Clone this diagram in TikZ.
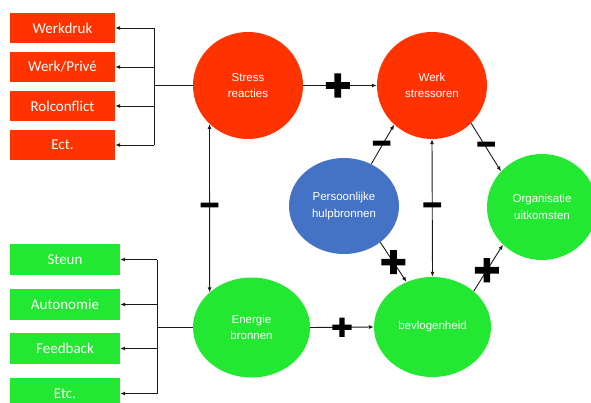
\documentclass[tikz,border=0pt]{standalone}
\usepackage{fontspec}
\setmainfont{Liberation Sans}
\newfontfamily\boxfont{Carlito}
\newfontfamily\signfont[FakeBold=8]{DejaVu Sans Bold}
\usetikzlibrary{shapes.geometric,arrows.meta}
\definecolor{myred}{HTML}{FF3300}
\definecolor{mygreen}{HTML}{22E832}
\definecolor{myblue}{HTML}{4472C4}
\definecolor{lineclr}{HTML}{1A1A1A}
\begin{document}
\begin{tikzpicture}[x=1pt,y=-1pt,
  circ/.style={ellipse, inner sep=0pt, text=white, align=center,
    font=\fontsize{11.5}{16.5}\selectfont},
  redbox/.style={rectangle, fill=myred, minimum width=105pt, minimum height=30pt,
    inner sep=0pt, text=white, font=\boxfont\fontsize{15}{15}\selectfont},
  greenbox/.style={rectangle, fill=mygreen, minimum width=110pt, minimum height=31pt,
    inner sep=0pt, text=white, font=\boxfont\fontsize{15}{15}\selectfont},
  conn/.style={draw=lineclr, line width=0.9pt},
  arr/.style={conn, -{Latex[length=5pt,width=4pt]}},
  darr/.style={conn, {Latex[length=5pt,width=4pt]}-{Latex[length=5pt,width=4pt]}},
  bigplus/.style={inner sep=0pt, font=\signfont\fontsize{34}{34}\selectfont},
  smallplus/.style={inner sep=0pt, font=\signfont\fontsize{27}{27}\selectfont},
  minussign/.style={inner sep=0pt, font=\signfont\fontsize{25}{25}\selectfont}
]
\clip (0,0) rectangle (591,403);
\fill[white] (0,0) rectangle (591,403);

% circles
\node[circ, fill=myred, minimum width=110pt, minimum height=107pt] (stress) at (248,85.5) {Stress\\reacties};
\node[circ, fill=myred, minimum width=110pt, minimum height=107pt] (werk) at (432,85.5) {Werk\\stressoren};
\node[circ, fill=myblue, minimum width=110pt, minimum height=96pt] (pers) at (344,206) {Persoonlijke\\hulpbronnen};
\node[circ, fill=mygreen, minimum width=110pt, minimum height=106pt] (org) at (542,207) {Organisatie\\uitkomsten};
\node[circ, fill=mygreen, minimum width=117pt, minimum height=100pt] (energie) at (251.5,327.5) {Energie\\bronnen};
\node[circ, fill=mygreen, minimum width=117pt, minimum height=100pt] (bev) at (432.5,327) {bevlogenheid};

% red boxes
\node[redbox] (werkdruk) at (62.5,28) {Werkdruk};
\node[redbox] (werkprive) at (62.5,67) {Werk/Privé};
\node[redbox] (rolconflict) at (62.5,106) {Rolconflict};
\node[redbox] (ect) at (62.5,145) {Ect.};

% green boxes
\node[greenbox] (steun) at (65,259.5) {Steun};
\node[greenbox] (autonomie) at (65,304.5) {Autonomie};
\node[greenbox] (feedback) at (65,348.5) {Feedback};
\node[greenbox] (etc) at (65,393.5) {Etc.};

% red tree
\coordinate (rj) at (154,85.5);
\draw[conn] (stress.west) -- (rj);
\draw[conn] (rj |- werkdruk.east) -- (rj |- ect.east);
\foreach \b in {werkdruk,werkprive,rolconflict,ect}
  \draw[arr] (rj |- \b.east) -- (\b.east);

% green tree
\coordinate (gj) at (157,327.5);
\draw[conn] (energie.west) -- (gj);
\draw[conn] (gj |- steun.east) -- (gj |- etc.east);
\foreach \b in {steun,autonomie,feedback,etc}
  \draw[arr] (gj |- \b.east) -- (\b.east);

% main connectors
\draw[arr] (stress.east) -- (werk.west) node[pos=0.47, bigplus] {+};
\draw[darr] (stress.225.5) -- (energie.140) node[midway, minussign] {−};
\draw[darr] (werk.south) -- (bev.north) node[midway, minussign] {−};
\draw[arr] (pers.57.8) -- (werk.226) node[pos=0.45, minussign] {−};
\draw[arr] (werk.316) -- (org.139) node[midway, minussign] {−};
\draw[arr] (pers.315) -- (bev.120) node[midway, bigplus] {+};
\draw[arr] (bev.41) -- (org.224) node[pos=0.45, bigplus] {+};
\draw[arr] (energie.east) -- (bev.west) node[midway, smallplus] {+};
\end{tikzpicture}
\end{document}
